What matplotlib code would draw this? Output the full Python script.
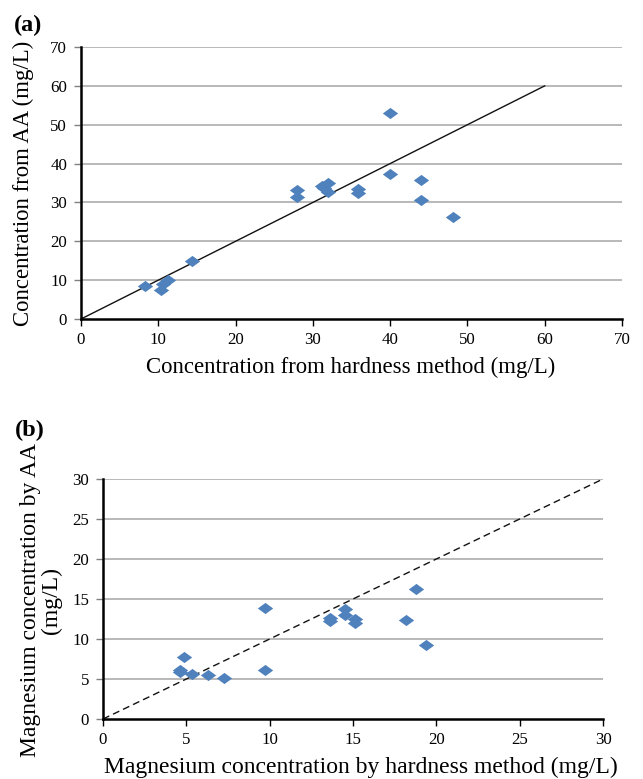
import matplotlib
matplotlib.use("Agg")
import matplotlib.pyplot as plt
from matplotlib.path import Path

plt.rcParams['font.family'] = ['Liberation Serif', 'DejaVu Serif']

# Panel (a): total concentration
a_hard = [8.3, 10.4, 10.6, 11.3, 14.4, 28.0, 28.0, 31.2, 31.4, 31.9, 31.9, 35.9, 35.9, 40.0, 40.0, 44.0, 44.0, 48.1]
a_aa   = [8.4, 7.5, 9.0, 10.1, 14.8, 33.1, 31.5, 34.1, 33.8, 34.9, 32.7, 33.4, 32.3, 52.9, 37.2, 35.9, 30.6, 26.3]
a_line = [0, 60]

# Panel (b): magnesium concentration
b_hard = [4.86, 4.6, 4.6, 5.36, 6.32, 7.28, 9.7, 9.7, 13.64, 13.64, 14.54, 14.54, 15.14, 15.14, 18.16, 18.8, 19.4]
b_aa   = [7.77, 6.18, 5.85, 5.68, 5.51, 5.1, 13.9, 6.18, 12.66, 12.24, 13.7, 13.0, 12.53, 12.0, 12.4, 16.3, 9.27]
b_line = [0, 30]

a_xticks = [0, 10, 20, 30, 40, 50, 60, 70]
a_yticks = [0, 10, 20, 30, 40, 50, 60, 70]
b_ticks = [0, 5, 10, 15, 20, 25, 30]

blue = '#4F81BD'
diamond = Path([(-1, 0), (0, 0.73), (1, 0), (0, -0.73), (-1, 0)],
               [Path.MOVETO, Path.LINETO, Path.LINETO, Path.LINETO, Path.CLOSEPOLY])

W, H = 643, 779
fig = plt.figure(figsize=(W / 100, H / 100), dpi=100)

def px_axes(l, r, t, b):
    return fig.add_axes([l / W, 1 - b / H, (r - l) / W, (b - t) / H])

def style(ax, xt, yt):
    ax.set_xlim(xt[0], xt[-1])
    ax.set_ylim(yt[0], yt[-1])
    ax.set_xticks(xt)
    ax.set_yticks(yt)
    for s in ['top', 'right']:
        ax.spines[s].set_visible(False)
    for s in ['left', 'bottom']:
        ax.spines[s].set_linewidth(1.8)
        ax.spines[s].set_color('black')
    ax.tick_params(direction='out', length=5, width=1, colors='black',
                   labelsize=12.2)
    ax.tick_params(axis='x', pad=4)
    ax.tick_params(axis='y', pad=5, color='#808080')
    for y in yt[1:]:
        ax.axhline(y, color='#A6A6A6', lw=1.1, zorder=0)
    ax.set_axisbelow(True)

def place_labels(ax, l, r, t, b, xl_cx, xl_cy, yl_cx, yl_cy):
    ax.xaxis.set_label_coords((xl_cx - l) / (r - l), (b - xl_cy) / (b - t))
    ax.yaxis.set_label_coords((yl_cx - l) / (r - l), (b - yl_cy) / (b - t))

# (a)
L1, R1, T1, B1 = 81, 622, 47, 319
ax1 = px_axes(L1, R1, T1, B1)
style(ax1, a_xticks, a_yticks)
ax1.plot(a_line, a_line, color='#111111', lw=1.0, zorder=2)
ax1.scatter(a_hard, a_aa, marker=diamond, s=122, color=blue, zorder=3, linewidths=0)
ax1.set_xlabel('Concentration from hardness method (mg/L)', fontsize=16.4, va='center')
ax1.set_ylabel('Concentration from AA (mg/L)', fontsize=16.4, va='center')
place_labels(ax1, L1, R1, T1, B1, 351, 367, 23, 183)
fig.text(14 / W, 1 - 25 / H, '(a)', fontsize=17.5, fontweight='bold', va='center', ha='left')

# (b)
L2, R2, T2, B2 = 103, 603, 479, 719
ax2 = px_axes(L2, R2, T2, B2)
style(ax2, b_ticks, b_ticks)
ax2.plot(b_line, b_line, color='#111111', lw=1.0, dashes=(5, 3), zorder=2)
ax2.scatter(b_hard, b_aa, marker=diamond, s=122, color=blue, zorder=3, linewidths=0)
ax2.set_xlabel('Magnesium concentration by hardness method (mg/L)', fontsize=17, va='center')
ax2.set_ylabel('Magnesium concentration by AA\n(mg/L)', fontsize=17, va='center',
               linespacing=1.0)
place_labels(ax2, L2, R2, T2, B2, 361, 767, 41, 600)
fig.text(15 / W, 1 - 430 / H, '(b)', fontsize=17.5, fontweight='bold', va='center', ha='left')

fig.savefig('out.png', dpi=100)
